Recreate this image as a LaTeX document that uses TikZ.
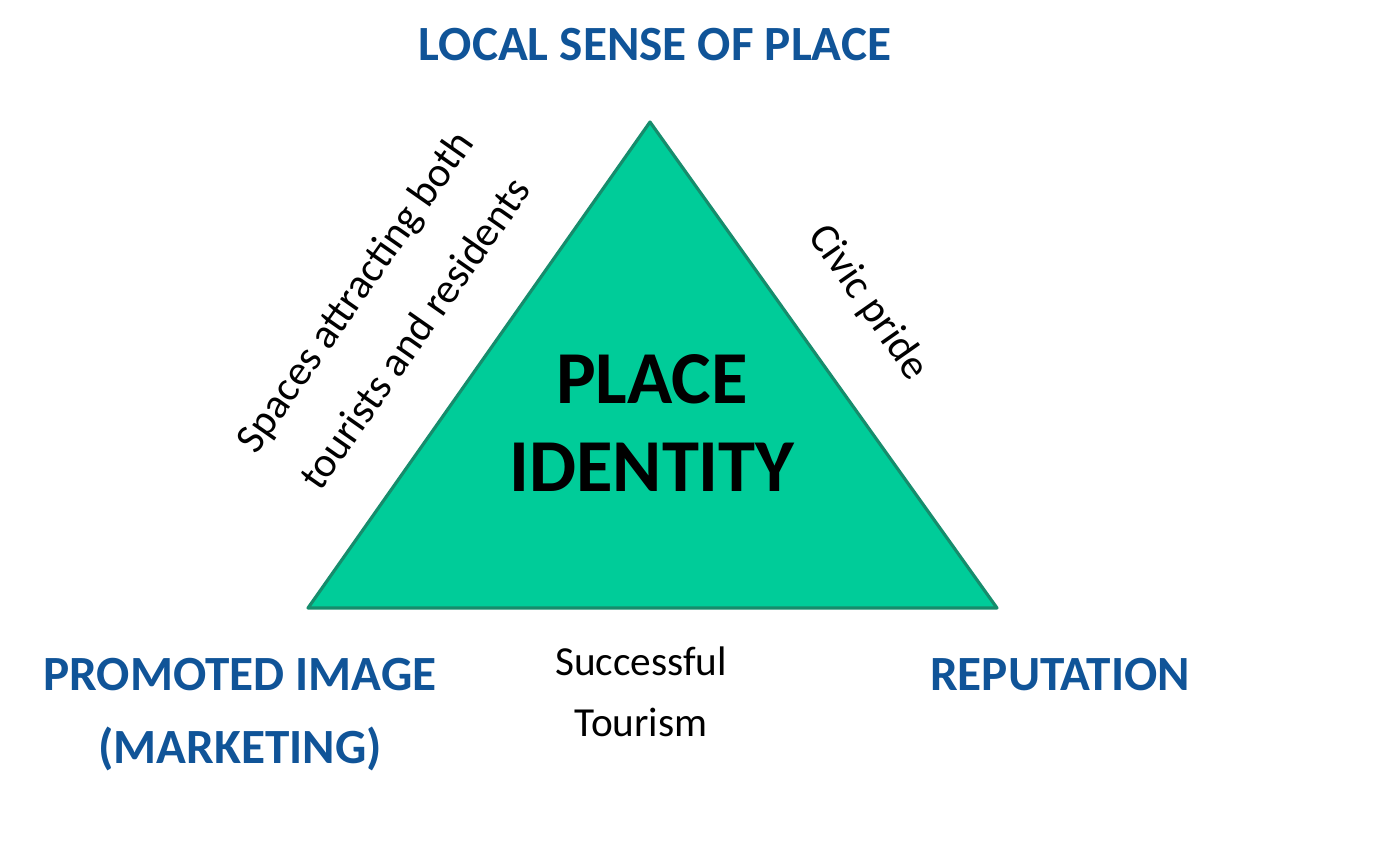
\documentclass[tikz,border=0pt]{standalone}
\usepackage{fontspec}
\setmainfont{Carlito}
\usepackage{tikz}

\definecolor{tealfill}{RGB}{0,204,153}
\definecolor{tealedge}{RGB}{22,140,108}
\definecolor{headblue}{RGB}{16,84,152}

\tikzset{
  corner/.style={font=\bfseries\fontsize{28}{41.5}\selectfont, text=headblue, align=center},
  sidetext/.style={font=\fontsize{23.5}{35}\selectfont, align=center},
}

\begin{document}
\begin{tikzpicture}[x=0.2mm,y=-0.2mm]
  \useasboundingbox (0,0) rectangle (1373,865);

  \coordinate (T) at (650,122);
  \coordinate (L) at (308,608);
  \coordinate (R) at (997,608);

  \draw[fill=tealfill, draw=tealedge, line width=1.8pt, line join=round] (T) -- (L) -- (R) -- cycle;

  \node[font=\bfseries\fontsize{42.5}{50}\selectfont, align=center] (core) at (652,423) {PLACE\\IDENTITY};

  % corners
  \node[corner] (local) at (655,45) {LOCAL SENSE OF PLACE};
  \node[corner] (promo) at (240,715) {PROMOTED IMAGE\\(MARKETING)};
  \node[corner] (rep) at (1060,675) {REPUTATION};

  % sides
  \node[sidetext, font=\fontsize{24}{42}\selectfont, rotate=55] (spaces) at (384,312) {Spaces attracting both\\tourists and residents};
  \node[sidetext, font=\fontsize{24}{35}\selectfont, rotate=-55] (civic) at (868,303) {Civic pride};
  \node[sidetext] (tourism) at (641,692) {Successful\\Tourism};
\end{tikzpicture}
\end{document}
